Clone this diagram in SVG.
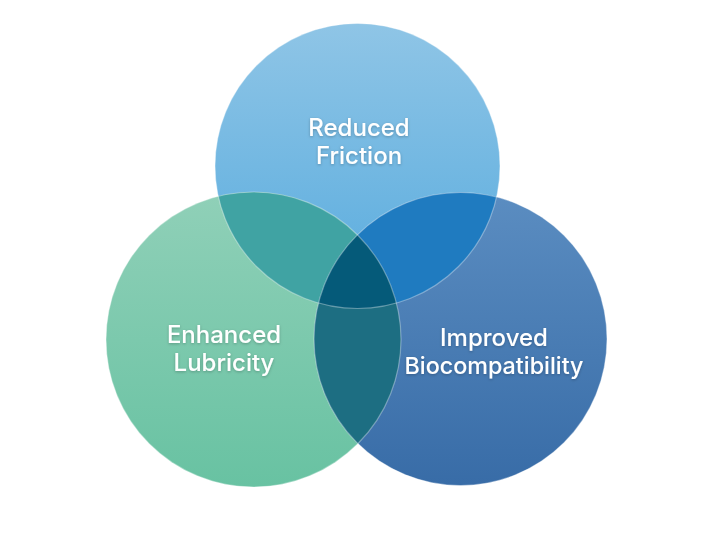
<svg xmlns="http://www.w3.org/2000/svg" width="716" height="538" viewBox="0 0 716 538">
<defs>
<linearGradient id="gTop" x1="0" y1="0" x2="0" y2="1"><stop offset="0" stop-color="#8fc5e6"/><stop offset="1" stop-color="#57abde"/></linearGradient>
<linearGradient id="gLeft" x1="0" y1="0" x2="0" y2="1"><stop offset="0" stop-color="#90d0b8"/><stop offset="1" stop-color="#68c2a2"/></linearGradient>
<linearGradient id="gRight" x1="0" y1="0" x2="0" y2="1"><stop offset="0" stop-color="#5b8dc1"/><stop offset="1" stop-color="#386ca7"/></linearGradient>
<clipPath id="cTop"><circle cx="357.5" cy="166" r="142.5"/></clipPath>
<clipPath id="cLeft"><circle cx="253.5" cy="339.5" r="147.5"/></clipPath>
<clipPath id="cRight"><circle cx="460.5" cy="339" r="146.5"/></clipPath>
<filter id="sh" x="-20%" y="-40%" width="140%" height="180%"><feDropShadow dx="0" dy="1" stdDeviation="1.5" flood-color="#000" flood-opacity="0.25"/></filter>
<style>
.lbl{font-family:Inter,"Liberation Sans",Arial,sans-serif;font-weight:500;fill:#ffffff;text-anchor:middle;filter:url(#sh)}
.edge{fill:none;stroke:#ffffff;stroke-opacity:0.35;stroke-width:1.2}
</style>
</defs>
<rect width="716" height="538" fill="#ffffff"/>
<g id="circle-top"><circle cx="357.5" cy="166" r="142.5" fill="url(#gTop)"/></g>
<g id="circle-left"><circle cx="253.5" cy="339.5" r="147.5" fill="url(#gLeft)"/></g>
<g id="circle-right"><circle cx="460.5" cy="339" r="146.5" fill="url(#gRight)"/></g>
<g id="overlaps">
<g clip-path="url(#cTop)"><circle cx="253.5" cy="339.5" r="147.5" fill="#40a3a3"/></g>
<g clip-path="url(#cTop)"><circle cx="460.5" cy="339" r="146.5" fill="#1f7bc0"/></g>
<g clip-path="url(#cLeft)"><circle cx="460.5" cy="339" r="146.5" fill="#1d6e82"/></g>
<g clip-path="url(#cTop)"><g clip-path="url(#cLeft)"><circle cx="460.5" cy="339" r="146.5" fill="#055a79"/></g></g>
</g>
<g id="edges">
<circle class="edge" cx="357.5" cy="166" r="142.5"/>
<circle class="edge" cx="253.5" cy="339.5" r="147.5"/>
<circle class="edge" cx="460.5" cy="339" r="146.5"/>
</g>
<g id="label-top"><text class="lbl" x="359" y="136" font-size="24">Reduced</text><text class="lbl" x="359" y="164" font-size="24">Friction</text></g>
<g id="label-left"><text class="lbl" x="224" y="343" font-size="24">Enhanced</text><text class="lbl" x="224" y="371" font-size="24">Lubricity</text></g>
<g id="label-right"><text class="lbl" x="494" y="346" font-size="24">Improved</text><text class="lbl" x="494" y="374" font-size="23.3">Biocompatibility</text></g>
</svg>
